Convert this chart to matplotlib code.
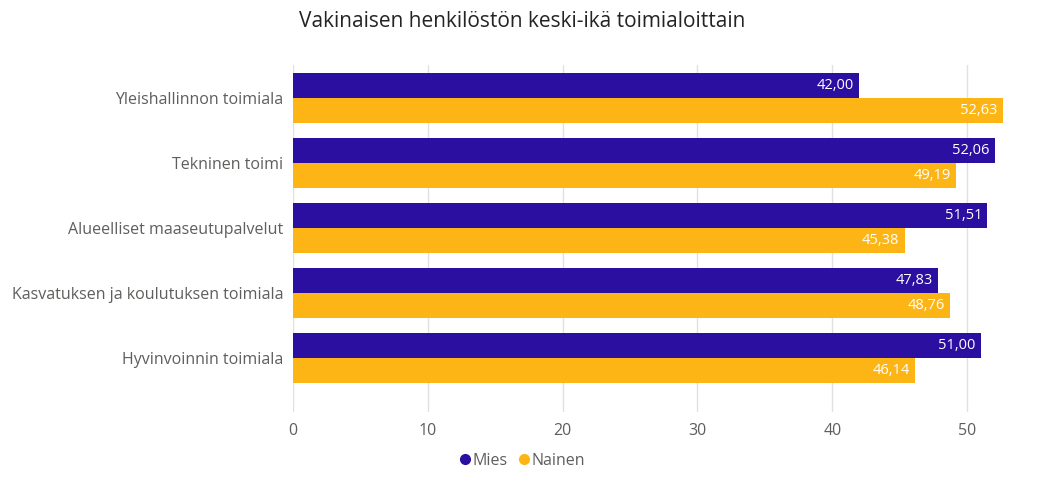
import matplotlib
matplotlib.use("Agg")
import matplotlib.pyplot as plt
import numpy as np

plt.rcParams['font.family'] = ['Open Sans', 'DejaVu Sans']

categories = ['Yleishallinnon toimiala', 'Tekninen toimi', 'Alueelliset maaseutupalvelut',
              'Kasvatuksen ja koulutuksen toimiala', 'Hyvinvoinnin toimiala']
mies = [42.00, 52.06, 51.51, 47.83, 51.00]
nainen = [52.63, 49.19, 45.38, 48.76, 46.14]
series_names = ['Mies', 'Nainen']
colors = ['#2A0FA0', '#FDB515']

fig = plt.figure(figsize=(10.42, 4.78), dpi=100)
ax = fig.add_axes([293/1042, 66/478, 728/1042, 347/478])

y = np.arange(len(categories))
h = 0.38
for vals, off, col, name in [(mies, -h/2, colors[0], series_names[0]),
                              (nainen, h/2, colors[1], series_names[1])]:
    bars = ax.barh(y + off, vals, height=h, color=col, label=name, zorder=3)
    for b, v in zip(bars, vals):
        ax.text(v - 0.4, b.get_y() + b.get_height()/2, f'{v:.2f}'.replace('.', ','),
                ha='right', va='center', color='white', fontsize=10.5, zorder=4)

ax.set_xlim(0, 54)
ax.set_ylim(4.83, -0.51)
ax.set_xticks([0, 10, 20, 30, 40, 50])
ax.set_yticks(y)
ax.set_yticklabels(categories)
ax.tick_params(axis='both', length=0, labelcolor='#605E5C', labelsize=11.5)
ax.tick_params(axis='x', pad=8)
ax.tick_params(axis='y', pad=7)
ax.grid(axis='x', color='#E1E1E1', linewidth=1, zorder=0)
for s in ax.spines.values():
    s.set_visible(False)

fig.text(522/1042, 0.955, 'Vakinaisen henkilöstön keski-ikä toimialoittain',
         ha='center', va='center', fontsize=15, color='#252423')

handles = [plt.Line2D([], [], marker='o', linestyle='', color=c, markersize=7) for c in colors]
fig.legend(handles, series_names, loc='center', bbox_to_anchor=(521/1042, 1 - 461/478),
           ncol=2, frameon=False, handletextpad=0.0, columnspacing=0.5,
           fontsize=11.5, labelcolor='#605E5C', handlelength=1.0)

fig.savefig('out.png', dpi=100)
